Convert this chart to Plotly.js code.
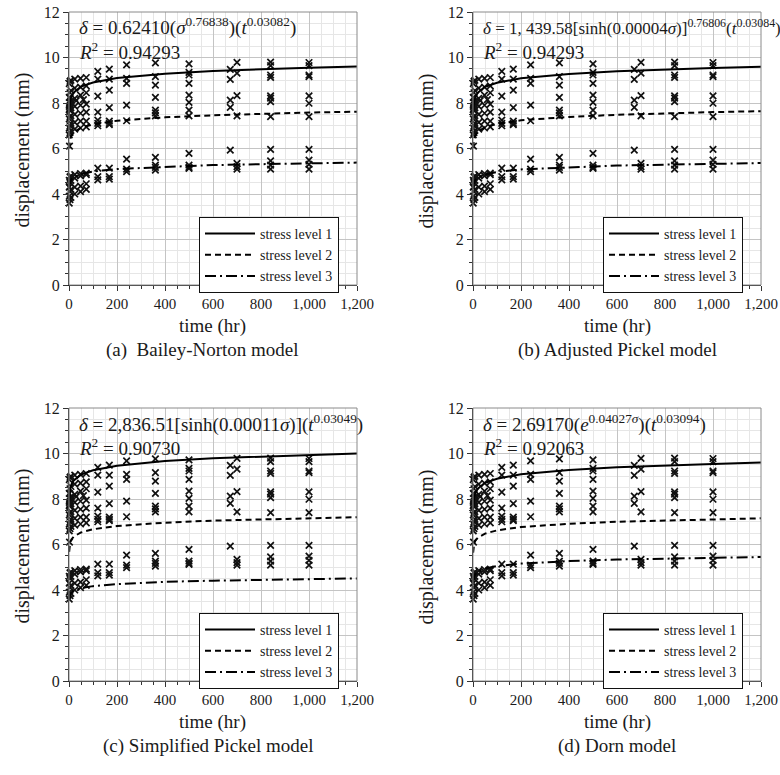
<!DOCTYPE html>
<html>
<head>
<meta charset="utf-8">
<script src="https://cdn.plot.ly/plotly-3.0.1.min.js"></script>
<style>html,body{margin:0;padding:0;background:#fff;}#chart{width:780px;height:775px;}</style>
</head>
<body>
<div id="chart"></div>
<script>
// ---------- data ----------
const panelLetters = ["a", "b", "c", "d"];
const captions = ["(a)  Bailey-Norton model", "(b) Adjusted Pickel model", "(c) Simplified Pickel model", "(d) Dorn model"];
const equations = [
  "<i>δ</i> = 0.62410(<i>σ</i><sup>0.76838</sup>)(<i>t</i><sup>0.03082</sup>)",
  "<i>δ</i> = 1, 439.58[sinh(0.00004<i>σ</i>)]<sup>0.76806</sup>(<i>t</i><sup>0.03084</sup>)",
  "<i>δ</i> = 2,836.51[sinh(0.00011<i>σ</i>)](<i>t</i><sup>0.03049</sup>)",
  "<i>δ</i> = 2.69170(<i>e</i><sup>0.04027<i>σ</i></sup>)(<i>t</i><sup>0.03094</sup>)"
];
const rSquared = ["0.94293", "0.94293", "0.90730", "0.92063"];
const seriesNames = ["stress level 1", "stress level 2", "stress level 3"];
const xTickVals = [0, 200, 400, 600, 800, 1000, 1200];
const yTickVals = [0, 2, 4, 6, 8, 10, 12];

// observed displacements (mm) vs time (hr)
const obsT1 = [1,4,8,24,48,72,120,168,240,360,500,700,840,1000,
               1,4,8,24,48,72,120,168,240,360,500,700,840,1000,
               1,4,8,24,48,72,120,168,240,360,500,672,840,1000,
               2,6,12,30,60,500,672,840,1000];
const obsD1 = [8.85,8.95,9.00,9.05,9.08,9.12,9.39,9.49,9.68,9.76,9.72,9.79,9.80,9.78,
               8.25,8.45,8.55,8.65,8.70,8.75,9.05,9.05,9.08,9.16,9.35,9.31,9.64,9.64,
               7.85,8.00,8.10,8.20,8.35,8.45,8.30,8.57,8.86,8.79,9.23,9.48,9.23,9.23,
               7.75,7.90,8.00,8.10,8.15,8.86,9.04,9.13,9.16];
const obsT2 = [1,4,8,24,48,72,120,168,240,360,500,672,700,840,1000,
               1,4,8,24,48,72,120,168,240,360,500,672,840,1000,
               1,4,8,24,48,72,120,168,360,500,840,1000,
               1,4,8,24,48,72,120,168,360,500,700,840,
               2];
const obsD2 = [7.70,7.75,7.80,7.85,7.90,7.95,7.60,7.80,7.91,8.25,8.35,8.13,8.32,8.31,8.31,
               7.30,7.40,7.45,7.50,7.55,7.60,7.25,7.20,7.22,7.69,8.03,7.81,8.21,7.99,
               6.90,7.00,7.10,7.15,7.20,7.20,7.10,7.05,7.57,7.69,8.06,7.40,
               6.60,6.70,6.80,6.85,6.90,6.95,7.00,7.10,7.43,7.43,7.43,7.40,
               6.10];
const obsT3 = [1,4,8,24,48,72,120,168,240,360,500,672,840,1000,
               1,4,8,24,48,72,120,168,240,360,500,700,840,1000,
               1,4,8,24,48,72,120,168,240,360,500,700,840,1000,
               1,4,8,24,48,72,360,500,700,840,1000];
const obsD3 = [4.60,4.75,4.80,4.85,4.90,4.92,5.14,5.14,5.53,5.61,5.79,5.93,5.96,5.96,
               4.30,4.50,4.60,4.70,4.80,4.85,4.76,4.76,5.09,5.27,5.27,5.35,5.46,5.49,
               3.90,4.10,4.20,4.30,4.35,4.45,4.62,4.65,4.98,5.17,5.13,5.20,5.27,5.30,
               3.60,3.75,3.85,4.00,4.10,4.20,5.05,5.17,5.09,5.09,5.09];

// fitted model curves
const curveT = [0.5,1,2,5,10,20,50,100,200,400,600,800,1000,1200];
const curveA1 = [7.56,7.72,7.89,8.11,8.28,8.46,8.72,8.90,9.10,9.29,9.41,9.49,9.55,9.60];
const curveA2 = [6.00,6.13,6.26,6.44,6.57,6.71,6.92,7.06,7.22,7.37,7.46,7.53,7.58,7.62];
const curveA3 = [4.23,4.33,4.42,4.54,4.64,4.74,4.88,4.99,5.10,5.20,5.27,5.31,5.35,5.38];
const curveB1 = [7.55,7.71,7.88,8.10,8.27,8.45,8.71,8.89,9.09,9.28,9.40,9.48,9.54,9.59];
const curveB2 = [6.02,6.15,6.28,6.46,6.59,6.73,6.94,7.08,7.24,7.39,7.48,7.55,7.60,7.64];
const curveB3 = [4.21,4.31,4.40,4.52,4.62,4.72,4.86,4.97,5.08,5.18,5.25,5.29,5.33,5.36];
const curveC1 = [7.89,8.06,8.23,8.46,8.64,8.82,9.07,9.26,9.46,9.67,9.79,9.87,9.94,10.00];
const curveC2 = [5.68,5.80,5.92,6.09,6.22,6.35,6.53,6.67,6.81,6.96,7.05,7.11,7.16,7.20];
const curveC3 = [3.55,3.63,3.70,3.81,3.89,3.97,4.08,4.17,4.26,4.36,4.41,4.45,4.48,4.51];
const curveD1 = [7.55,7.71,7.88,8.10,8.28,8.45,8.71,8.89,9.09,9.28,9.40,9.48,9.54,9.60];
const curveD2 = [5.64,5.76,5.88,6.05,6.17,6.30,6.48,6.62,6.77,6.91,7.00,7.06,7.11,7.15];
const curveD3 = [4.29,4.38,4.47,4.60,4.70,4.80,4.94,5.05,5.16,5.27,5.34,5.38,5.42,5.45];

const curves = [[curveA1, curveA2, curveA3], [curveB1, curveB2, curveB3],
                [curveC1, curveC2, curveC3], [curveD1, curveD2, curveD3]];
const obsT = [obsT1, obsT2, obsT3];
const obsD = [obsD1, obsD2, obsD3];

// ---------- layout helpers ----------
const W = 780, H = 775;
const FONT = "Liberation Serif";
const TXT = "#1a1a1a";
const dashes = ["solid", "6px,4px", "11px,4px,2px,4px"];
// plot-area boxes in pixels [left, top, right, bottom]
const boxes = [[69, 12, 357, 285], [473, 12, 761, 285], [69, 408, 357, 681], [473, 408, 761, 681]];
const legendPos = [[199, 217], [603, 217], [199, 613], [603, 613]];

const px = v => v / W;
const py = v => 1 - v / H;

const traces = [];
const layout = {
  width: W, height: H,
  margin: {l: 0, r: 0, t: 0, b: 0},
  paper_bgcolor: "#fff", plot_bgcolor: "#fff",
  font: {family: FONT, color: TXT},
  showlegend: true,
  annotations: [], shapes: []
};

boxes.forEach((b, i) => {
  const xa = i === 0 ? "x" : "x" + (i + 1);
  const ya = i === 0 ? "y" : "y" + (i + 1);
  const xk = i === 0 ? "xaxis" : "xaxis" + (i + 1);
  const yk = i === 0 ? "yaxis" : "yaxis" + (i + 1);
  const lg = i === 0 ? "legend" : "legend" + (i + 1);

  layout[xk] = {
    domain: [px(b[0]), px(b[2])], anchor: ya,
    range: [0, 1200], tickvals: xTickVals, tickformat: ",d",
    showgrid: true, gridcolor: "#c4c4c4", gridwidth: 1,
    minor: {dtick: 50, showgrid: true, gridcolor: "#e6e6e6", ticks: "outside", ticklen: 3, tickcolor: "#333"},
    ticks: "outside", ticklen: 5, tickcolor: "#333",
    showline: true, linecolor: "#222", linewidth: 1, zeroline: false,
    tickfont: {family: FONT, size: 15, color: TXT}
  };
  layout[yk] = {
    domain: [py(b[3]), py(b[1])], anchor: xa,
    range: [0, 12], tickvals: yTickVals,
    showgrid: true, gridcolor: "#c4c4c4", gridwidth: 1,
    minor: {dtick: 0.5, showgrid: true, gridcolor: "#e6e6e6", ticks: "outside", ticklen: 3, tickcolor: "#333"},
    ticks: "outside", ticklen: 5, tickcolor: "#333",
    showline: true, linecolor: "#222", linewidth: 1, zeroline: false,
    tickfont: {family: FONT, size: 16, color: TXT}
  };
  layout.shapes.push({type: "rect", xref: xa + " domain", yref: ya + " domain",
    x0: 0, x1: 1, y0: 0, y1: 1, line: {color: "#8a8a8a", width: 1}});

  layout[lg] = {
    x: px(legendPos[i][0]), y: py(legendPos[i][1]), xanchor: "left", yanchor: "top",
    xref: "paper", yref: "paper",
    bgcolor: "#fff", bordercolor: "#111", borderwidth: 1,
    font: {family: FONT, size: 14, color: TXT}, tracegroupgap: 0,
    itemwidth: 50
  };

  // observations
  for (let k = 0; k < 3; k++) {
    traces.push({
      type: "scatter", mode: "markers", x: obsT[k], y: obsD[k], xaxis: xa, yaxis: ya,
      showlegend: false, hoverinfo: "skip", cliponaxis: false,
      marker: {symbol: "x-thin-open", size: 6.5, color: "#111", line: {width: 1.7, color: "#111"}}
    });
  }
  // fitted curves
  for (let k = 0; k < 3; k++) {
    traces.push({
      type: "scatter", mode: "lines", x: curveT, y: curves[i][k], xaxis: xa, yaxis: ya,
      name: seriesNames[k], legend: lg,
      line: {color: "#000", width: 2, dash: dashes[k]}
    });
  }

  const cx = (b[0] + b[2]) / 2;
  // axis titles
  layout.annotations.push({xref: "paper", yref: "paper", x: px(b[0] - 47), y: py((b[1] + b[3]) / 2 + 2),
    text: "displacement (mm)", textangle: -90, showarrow: false,
    font: {family: FONT, size: 20, color: TXT}, xanchor: "center", yanchor: "middle"});
  layout.annotations.push({xref: "paper", yref: "paper", x: px(cx), y: py(b[3] + 41),
    text: "time (hr)", showarrow: false,
    font: {family: FONT, size: 19, color: TXT}, xanchor: "center", yanchor: "middle"});
  // captions
  layout.annotations.push({xref: "paper", yref: "paper", x: px(cx - (i === 0 ? 11 : (i === 2 ? 5 : 0))), y: py(b[3] + 65),
    text: captions[i], showarrow: false,
    font: {family: FONT, size: 19, color: TXT}, xanchor: "center", yanchor: "middle"});
  // equations
  layout.annotations.push({xref: "paper", yref: "paper", x: px(b[0] + 8), y: py(b[1] + 15),
    text: equations[i], showarrow: false,
    font: {family: FONT, size: i === 1 ? 17 : 19, color: TXT}, xanchor: "left", yanchor: "middle"});
  layout.annotations.push({xref: "paper", yref: "paper", x: px(b[0] + 8), y: py(b[1] + 39),
    text: "<i>R</i><sup>2</sup> = " + rSquared[i], showarrow: false,
    font: {family: FONT, size: 19, color: TXT}, xanchor: "left", yanchor: "middle"});
});

Plotly.newPlot("chart", traces, layout, {displayModeBar: false, staticPlot: true});
</script>
</body>
</html>
